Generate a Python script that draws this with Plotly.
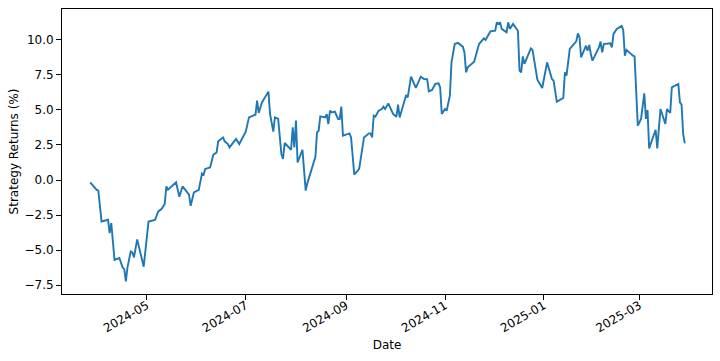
import plotly.graph_objects as go

dates = [
    "2024-03-27", "2024-03-31", "2024-04-01", "2024-04-03", "2024-04-07", "2024-04-08", "2024-04-09",
    "2024-04-11", "2024-04-14", "2024-04-16", "2024-04-17", "2024-04-18", "2024-04-19", "2024-04-21",
    "2024-04-22", "2024-04-23", "2024-04-25", "2024-04-29", "2024-05-02", "2024-05-06", "2024-05-08",
    "2024-05-10", "2024-05-12", "2024-05-13", "2024-05-14", "2024-05-19", "2024-05-21", "2024-05-23",
    "2024-05-27", "2024-05-28", "2024-05-30", "2024-06-02", "2024-06-04", "2024-06-05", "2024-06-06",
    "2024-06-09", "2024-06-11", "2024-06-13", "2024-06-14", "2024-06-17", "2024-06-18", "2024-06-20",
    "2024-06-21", "2024-06-25", "2024-06-27", "2024-06-30", "2024-07-01", "2024-07-03", "2024-07-07",
    "2024-07-08", "2024-07-09", "2024-07-11", "2024-07-15", "2024-07-16", "2024-07-18", "2024-07-19",
    "2024-07-21", "2024-07-23", "2024-07-24", "2024-07-25", "2024-07-29", "2024-07-30", "2024-07-31",
    "2024-08-01", "2024-08-02", "2024-08-05", "2024-08-07", "2024-08-08", "2024-08-13", "2024-08-14",
    "2024-08-15", "2024-08-16", "2024-08-19", "2024-08-20", "2024-08-21", "2024-08-22", "2024-08-23",
    "2024-08-25", "2024-08-27", "2024-08-28", "2024-08-29", "2024-08-30", "2024-09-03", "2024-09-04",
    "2024-09-06", "2024-09-09", "2024-09-11", "2024-09-12", "2024-09-15", "2024-09-16", "2024-09-17",
    "2024-09-18", "2024-09-19", "2024-09-21", "2024-09-23", "2024-09-24", "2024-09-25", "2024-09-27",
    "2024-09-30", "2024-10-02", "2024-10-03", "2024-10-04", "2024-10-08", "2024-10-09", "2024-10-11",
    "2024-10-14", "2024-10-17", "2024-10-19", "2024-10-21", "2024-10-22", "2024-10-24", "2024-10-26",
    "2024-10-28", "2024-10-29", "2024-10-30", "2024-11-01", "2024-11-02", "2024-11-04", "2024-11-05",
    "2024-11-07", "2024-11-09", "2024-11-12", "2024-11-13", "2024-11-14", "2024-11-15", "2024-11-19",
    "2024-11-20", "2024-11-22", "2024-11-25", "2024-11-26", "2024-11-29", "2024-12-02", "2024-12-03",
    "2024-12-04", "2024-12-05", "2024-12-06", "2024-12-09", "2024-12-10", "2024-12-11", "2024-12-13",
    "2024-12-16", "2024-12-17", "2024-12-18", "2024-12-19", "2024-12-20", "2024-12-24", "2024-12-25",
    "2024-12-28", "2024-12-31", "2025-01-03", "2025-01-06", "2025-01-07", "2025-01-09", "2025-01-13",
    "2025-01-14", "2025-01-15", "2025-01-17", "2025-01-21", "2025-01-22", "2025-01-23", "2025-01-24",
    "2025-01-27", "2025-01-28", "2025-01-29", "2025-01-30", "2025-01-31", "2025-02-04", "2025-02-05",
    "2025-02-06", "2025-02-07", "2025-02-11", "2025-02-12", "2025-02-13", "2025-02-15", "2025-02-18",
    "2025-02-19", "2025-02-20", "2025-02-21", "2025-02-25", "2025-02-26", "2025-02-28", "2025-03-02",
    "2025-03-04", "2025-03-05", "2025-03-06", "2025-03-07", "2025-03-11", "2025-03-12", "2025-03-14",
    "2025-03-17", "2025-03-18", "2025-03-20", "2025-03-21", "2025-03-25", "2025-03-26", "2025-03-27",
    "2025-03-28", "2025-03-29",
]

returns_pct = [
    -0.17, -0.71, -0.76, -2.96, -2.84, -3.79, -3.07,
    -5.71, -5.57, -6.24, -6.36, -7.24, -6.24, -5.10,
    -5.17, -5.53, -4.24, -6.19, -2.96, -2.86, -2.24,
    -2.07, -1.71, -0.46, -0.69, -0.17, -1.19, -0.46,
    -1.05, -1.84, -0.89, -0.71, 0.47, 0.38, 0.79,
    0.90, 1.81, 1.97, 2.76, 3.04, 2.76, 2.57,
    2.33, 2.93, 2.57, 3.29, 3.45, 4.47, 4.66,
    5.66, 4.79, 5.54, 6.31, 4.71, 3.45, 4.47,
    4.36, 1.86, 1.50, 2.64, 2.16, 3.76, 2.33,
    4.24, 1.26, 2.16, -0.76, -0.24, 1.66, 3.40,
    3.52, 4.54, 4.47, 4.71, 4.00, 4.95, 4.83,
    4.88, 4.36, 4.36, 5.24, 3.16, 3.33, 3.04,
    0.38, 0.79, 2.09, 3.04, 3.33, 3.33, 3.04,
    4.59, 4.52, 4.95, 5.07, 5.24, 5.07, 5.47,
    4.71, 4.52, 5.38, 4.47, 6.07, 5.90, 7.38,
    6.57, 7.38, 7.21, 7.19, 6.33, 6.43, 6.86,
    6.90, 6.61, 4.71, 5.07, 4.95, 6.02, 8.40,
    9.71, 9.79, 9.52, 9.11, 7.69, 8.04, 8.45,
    8.88, 9.71, 10.11, 10.00, 10.61, 10.66, 11.26,
    11.14, 11.26, 10.79, 10.55, 11.26, 10.79, 11.14,
    10.66, 7.81, 7.69, 8.83, 8.29, 9.40, 9.29,
    7.16, 6.57, 8.40, 7.21, 7.09, 5.59, 5.86,
    7.69, 7.45, 9.36, 9.90, 10.47, 10.19, 8.76,
    9.59, 9.24, 9.64, 9.00, 8.52, 9.47, 9.88,
    9.11, 9.71, 9.76, 9.47, 10.43, 10.79, 11.00,
    10.71, 8.88, 9.29, 8.88, 8.83, 3.88, 4.36,
    6.19, 4.36, 5.00, 2.26, 3.59, 2.26, 5.07,
    4.00, 5.07, 4.79, 6.61, 6.86, 5.54, 5.38,
    3.29, 2.61,
]

x_tick_dates = ["2024-05-01", "2024-07-01", "2024-09-01", "2024-11-01", "2025-01-01", "2025-03-01"]
x_tick_labels = ["2024-05", "2024-07", "2024-09", "2024-11", "2025-01", "2025-03"]
y_tick_vals = [-7.5, -5.0, -2.5, 0.0, 2.5, 5.0, 7.5, 10.0]

fig = go.Figure(
    go.Scatter(
        x=dates, y=returns_pct, mode="lines",
        line=dict(color="#1f77b4", width=1.9),
    )
)

font = dict(family="DejaVu Sans", size=12, color="#000000")
fig.update_layout(
    width=720, height=361,
    margin=dict(l=62, r=8, t=9, b=67),
    paper_bgcolor="white", plot_bgcolor="white",
    font=font,
    showlegend=False,
)
fig.update_xaxes(
    range=["2024-03-09 14:00", "2025-04-14 19:00"],
    tickmode="array", tickvals=x_tick_dates, ticktext=x_tick_labels,
    tickangle=-30, ticks="outside", ticklen=5, tickcolor="black",
    ticklabelstandoff=-6,
    showgrid=False, zeroline=False, automargin=False,
    showline=True, linecolor="black", linewidth=1, mirror=True,
    title=dict(text="Date", font=dict(size=12), standoff=6),
)
fig.update_yaxes(
    range=[-8.14, 12.21],
    tickmode="array", tickvals=y_tick_vals, tickformat=".1f",
    ticks="outside", ticklen=5, tickcolor="black",
    showgrid=False, zeroline=False, automargin=False,
    showline=True, linecolor="black", linewidth=1, mirror=True,
    title=dict(text="Strategy Returns (%)", font=dict(size=12), standoff=3),
)

fig.write_html("out.html", config={"displayModeBar": False},
               post_script="document.body.style.margin='0px';")
